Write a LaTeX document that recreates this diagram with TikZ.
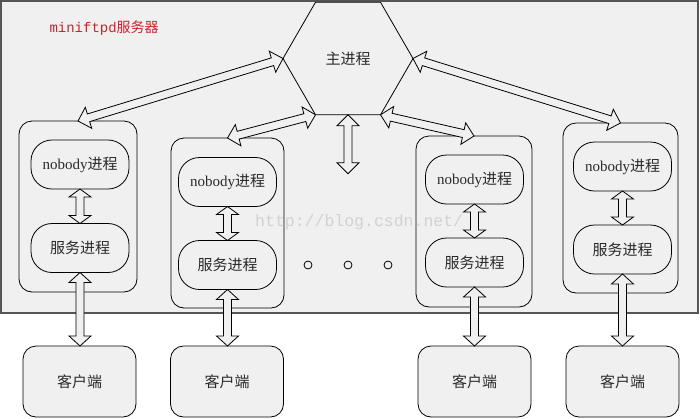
\documentclass[tikz,border=0pt]{standalone}
\usepackage{fontspec}
\setmainfont{Liberation Serif}
\newfontfamily\cjk{Noto Sans CJK SC}
\newfontfamily\monofont{Liberation Mono}
\usetikzlibrary{shapes.geometric,calc}
\definecolor{bg}{HTML}{F0F0F0}
\definecolor{frame}{HTML}{555555}
\definecolor{titlered}{HTML}{D0202A}
\definecolor{wm}{HTML}{D2D2D2}
\definecolor{txt}{HTML}{2A2A2A}
\tikzset{
 server/.style={draw=frame, line width=1.5pt, fill=bg, minimum width=697pt, minimum height=312pt, inner sep=0pt, outer sep=0pt},
 proc/.style={draw, line width=0.8pt, rounded corners=13pt, inner sep=0pt, outer sep=0pt},
 pill/.style={draw, line width=0.8pt, rounded corners=21pt, minimum width=98pt, minimum height=49pt, inner sep=0pt, outer sep=0pt, font=\fontsize{15}{15}\selectfont, text=txt},
 client/.style={draw, fill=bg, line width=0.8pt, rounded corners=13pt, minimum width=113pt, minimum height=71pt, inner sep=0pt, outer sep=0pt, font=\cjk\fontsize{15}{15}\selectfont, text=txt},
 hexnode/.style={draw, regular polygon, regular polygon sides=6, minimum size=130pt, inner sep=0pt, outer sep=0pt, line width=0.8pt, font=\cjk\fontsize{15}{15}\selectfont, text=txt},
 blockarrow/.style={draw, fill=bg, line width=0.8pt, line join=miter},
 dotnode/.style={draw, circle, minimum size=8pt, inner sep=0pt, line width=0.8pt},
}
% \dblarrow[head length]{from}{to}
\newcommand{\dblarrow}[3][11pt]{%
  \coordinate (da) at (#2);
  \coordinate (db) at (#3);
  \coordinate (da1) at ($(da)!#1!(db)$);
  \coordinate (db1) at ($(db)!#1!(da)$);
  \draw[blockarrow] (da) -- ($(da1)!11pt!90:(db)$) -- ($(da1)!4pt!90:(db)$)
    -- ($(db1)!4pt!-90:(da)$) -- ($(db1)!11pt!-90:(da)$) -- (db)
    -- ($(db1)!11pt!90:(da)$) -- ($(db1)!4pt!90:(da)$)
    -- ($(da1)!4pt!-90:(db)$) -- ($(da1)!11pt!-90:(db)$) -- cycle;
}
\begin{document}
\begin{tikzpicture}[x=1pt,y=-1pt]
\useasboundingbox (0,0) rectangle (700,418);
\node[server] (srv) at (349.5,157) {};
\node[anchor=west, text=titlered, font=\fontsize{14}{14}\selectfont] (title) at (46,28) {\monofont miniftpd{\cjk 服务器}};
\node[hexnode] (hex) at (348,58.5) {主进程};
% process groups
\node[proc, minimum width=118pt, minimum height=171pt] (g1) at (78,206.5) {};
\node[proc, minimum width=113pt, minimum height=170pt] (g2) at (227.5,223) {};
\node[proc, minimum width=116pt, minimum height=171pt] (g3) at (474,221.5) {};
\node[proc, minimum width=115pt, minimum height=170pt] (g4) at (620.5,208) {};
\node[pill] (n1) at (80,164.5) {nobody{\cjk 进程}};
\node[pill] (s1) at (80,248) {\cjk 服务进程};
\node[pill] (n2) at (227.5,182) {nobody{\cjk 进程}};
\node[pill] (s2) at (227.5,265) {\cjk 服务进程};
\node[pill] (n3) at (474.5,179.5) {nobody{\cjk 进程}};
\node[pill] (s3) at (474.5,262.5) {\cjk 服务进程};
\node[pill] (n4) at (622.5,166.5) {nobody{\cjk 进程}};
\node[pill] (s4) at (622.5,249.5) {\cjk 服务进程};
% clients
\node[client] (c1) at (79.5,381.5) {客户端};
\node[client] (c2) at (227,381.5) {客户端};
\node[client] (c3) at (474.5,381.5) {客户端};
\node[client] (c4) at (622.5,381.5) {客户端};
% dots
\node[dotnode] (d1) at (308,265) {};
\node[dotnode] (d2) at (348,265) {};
\node[dotnode] (d3) at (388,265) {};
% arrows
\dblarrow{hex.west}{g1.north}
\dblarrow{hex.240}{g2.north}
\dblarrow{hex.300}{g3.north}
\dblarrow{hex.east}{g4.north}
\coordinate (hexdown) at ($(hex.south)+(0,59)$);
\dblarrow{hex.south}{hexdown}
\dblarrow[8pt]{n1.south}{s1.north}
\dblarrow[8pt]{n2.south}{s2.north}
\dblarrow[8pt]{n3.south}{s3.north}
\dblarrow[8pt]{n4.south}{s4.north}
\dblarrow[10pt]{s1.south}{s1.south |- c1.north}
\dblarrow[10pt]{s2.south}{s2.south |- c2.north}
\dblarrow[10pt]{s3.south}{s3.south |- c3.north}
\dblarrow[10pt]{s4.south}{s4.south |- c4.north}
% watermark
\node[anchor=base west, text=wm, font=\monofont\fontsize{16.5}{16.5}\selectfont, inner sep=0pt] (wmark) at (255,226) {http://blog.csdn.net/};
\end{tikzpicture}
\end{document}
